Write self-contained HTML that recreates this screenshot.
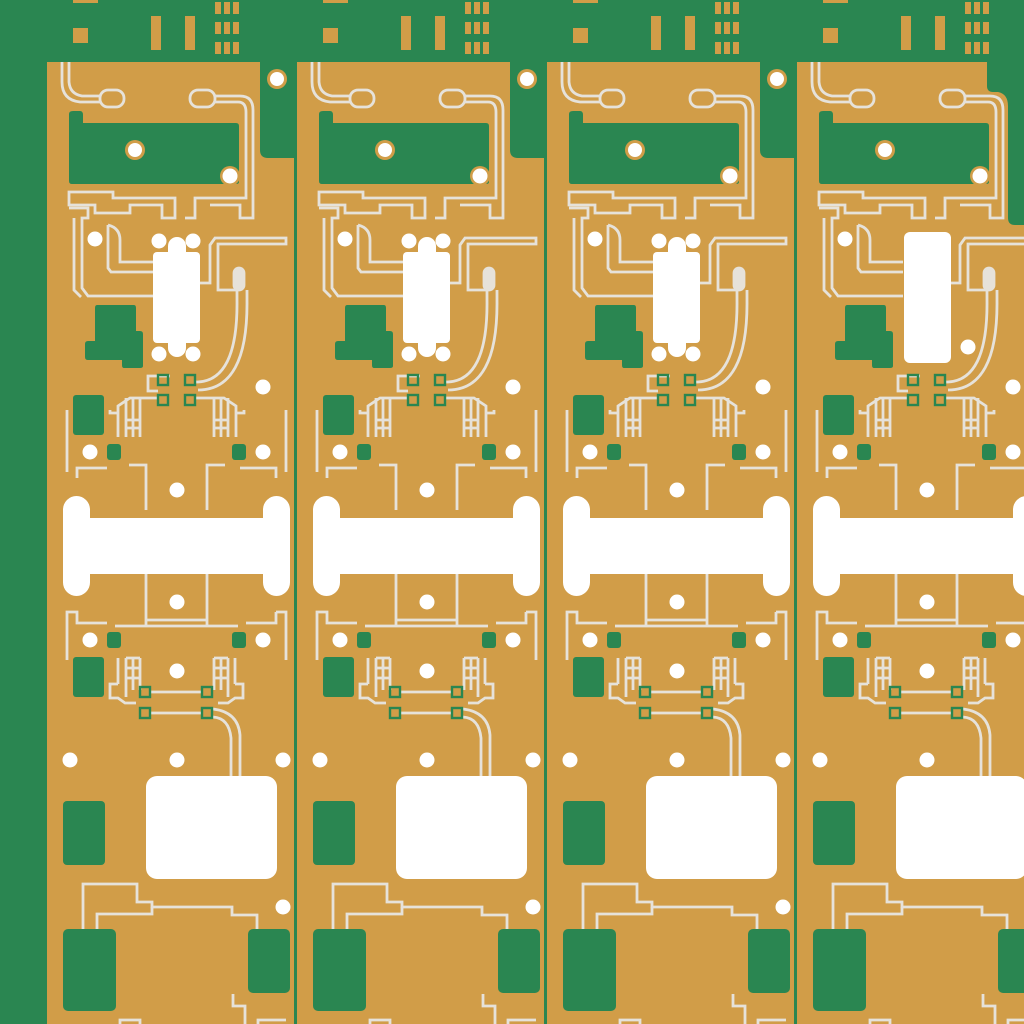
<!DOCTYPE html>
<html><head><meta charset="utf-8"><style>html,body{margin:0;padding:0;background:#2a8651}svg{display:block}</style></head>
<body>
<svg width="1024" height="1024" viewBox="0 0 1024 1024" xmlns="http://www.w3.org/2000/svg">
<defs>
<g id="top">
  <rect x="73" y="0" width="25" height="3" fill="#d19d48"/>
  <rect x="73" y="28" width="15" height="15" fill="#d19d48"/>
  <rect x="151" y="16" width="10" height="34" fill="#d19d48"/>
  <rect x="185" y="16" width="10" height="34" fill="#d19d48"/>
  <g fill="#d19d48">
    <rect x="215" y="2" width="6" height="12"/><rect x="224" y="2" width="6" height="12"/><rect x="233" y="2" width="6" height="12"/>
    <rect x="215" y="22" width="6" height="12"/><rect x="224" y="22" width="6" height="12"/><rect x="233" y="22" width="6" height="12"/>
    <rect x="215" y="42" width="6" height="12"/><rect x="224" y="42" width="6" height="12"/><rect x="233" y="42" width="6" height="12"/>
  </g>
</g>
<g id="colbase">
  <path d="M47 62 H260 V150 Q260 158 268 158 H294 V1024 H47 Z" fill="#d19d48"/>
  <circle cx="277" cy="79" r="10" fill="#d19d48"/><circle cx="277" cy="79" r="7" fill="#fff"/>
</g>
<g id="col" fill="none" stroke="#e6e2da" stroke-width="2.8">
  <path d="M62 62 V82 Q62 100 80 102 H100"/><path d="M69 62 V82 Q70 94 82 96 H100"/>
  <rect x="100" y="90" width="24" height="17" rx="8"/>
  <rect x="190" y="90" width="25" height="17" rx="8"/>
  <path d="M215 96 H240 Q253 96 253 110 V218 H240 V205 H210"/>
  <path d="M215 102 H238 Q246 102 246 112 V198 H195 V218 H185"/>
  <path d="M69 192 H113 V198 H175 V218 H162 V205 H130 V213 H95 V205 H69 Z"/>
  <path d="M69 208 H88 V218 H82 V288 L88 296 H153"/><path d="M74 218 V290 L81 297"/>
  <path d="M108 225 Q120 228 120 240 V262 H153"/><path d="M108 225 V268 L111 272 H153"/>
  <path d="M200 283 H210 V245 L215 238 H286 V244 H218 V290 H236"/>
  <path d="M237 290 V300 Q238 380 198 382 H195"/><path d="M247 290 V300 Q248 390 198 390"/>
  <rect x="234" y="268" width="10" height="22" rx="5" fill="#e6e2da"/>
  <path d="M170 376 H148 V391 H158"/>
  <path d="M158 398 H130 L118 406 V413 H110 V410 M118 413 V437 M126 398 V437 M126 420 H140 M126 428 H140 M133 398 V437 M140 398 V437"/>
  <path d="M196 398 H224 L236 406 V413 H244 V410 M236 413 V437 M228 398 V437 M214 420 H228 M214 428 H228 M221 398 V437 M214 398 V437"/>
  <path d="M67 410 V472 M286 410 V472"/>
  <path d="M77 478 V468 H107 M129 465 H146 V510 M207 510 V465 H225 M240 468 H276 V478"/>
  <path d="M146 574 V626 M207 574 V626 M146 620 H207 M115 626 H238"/>
  <path d="M67 660 V612 H77 V623 H107 M276 612 H286 V660 M276 612 V623 H246"/>
  <path d="M118 658 V684 M126 658 V697 M133 658 V690 M140 658 V690 M126 658 H140 M126 668 H140 M126 678 H140 M118 684 H110 V698 H118 L125 703 H136"/>
  <path d="M235 658 V684 M228 658 V697 M221 658 V690 M214 658 V690 M214 658 H228 M214 668 H228 M214 678 H228 M235 684 H243 V698 H235 L228 703 H218"/>
  <path d="M151 692 H202 M151 713 H202"/>
  <path d="M213 709 Q238 712 240 735 V776"/><path d="M213 717 Q229 718 231 738 V776"/>
  <path d="M83 929 V884 H137 V902 H152 V907 H232 V915 H257 V929"/>
  <path d="M97 929 V914 H152 V907"/>
  <path d="M233 994 V1006 H245 V1024"/>
  <path d="M120 1024 V1020 H140 V1024 M258 1024 V1020 H286"/>
  <g stroke="none">
    <path d="M73 111 H80 Q83 111 83 115 V123 H236 Q239 123 239 126 V182 Q239 184 236 184 H72 Q69 184 69 181 V114 Q69 111 73 111 Z" fill="#2a8651"/>
    <circle cx="135" cy="150" r="10" fill="#d19d48"/><circle cx="135" cy="150" r="7" fill="#fff"/>
    <circle cx="230" cy="176" r="10" fill="#d19d48"/><circle cx="230" cy="176" r="7.5" fill="#fff"/>
    <circle cx="95" cy="239" r="7.5" fill="#fff"/>
    <path d="M97 305 H134 Q136 305 136 308 V331 H140 Q143 331 143 334 V366 Q143 368 140 368 H124 Q122 368 122 365 V360 H88 Q85 360 85 357 V344 Q85 341 88 341 H95 V308 Q95 305 97 305 Z" fill="#2a8651"/>
    <rect x="73" y="395" width="31" height="40" rx="3" fill="#2a8651"/>
    <circle cx="263" cy="387" r="7.5" fill="#fff"/>
    <rect x="107" y="444" width="14" height="16" rx="3" fill="#2a8651"/>
    <rect x="232" y="444" width="14" height="16" rx="3" fill="#2a8651"/>
    <circle cx="90" cy="452" r="7.5" fill="#fff"/><circle cx="263" cy="452" r="7.5" fill="#fff"/>
    <circle cx="177" cy="490" r="7.5" fill="#fff"/>
    <rect x="63" y="496" width="27" height="100" rx="13.5" fill="#fff"/>
    <rect x="263" y="496" width="27" height="100" rx="13.5" fill="#fff"/>
    <rect x="70" y="518" width="210" height="56" fill="#fff"/>
    <circle cx="177" cy="602" r="7.5" fill="#fff"/>
    <rect x="107" y="632" width="14" height="16" rx="3" fill="#2a8651"/>
    <rect x="232" y="632" width="14" height="16" rx="3" fill="#2a8651"/>
    <circle cx="90" cy="640" r="7.5" fill="#fff"/><circle cx="263" cy="640" r="7.5" fill="#fff"/>
    <rect x="73" y="657" width="31" height="40" rx="3" fill="#2a8651"/>
    <circle cx="177" cy="671" r="7.5" fill="#fff"/>
    <circle cx="70" cy="760" r="7.5" fill="#fff"/><circle cx="177" cy="760" r="7.5" fill="#fff"/><circle cx="283" cy="760" r="7.5" fill="#fff"/>
    <rect x="146" y="776" width="131" height="103" rx="11" fill="#fff"/>
    <rect x="63" y="801" width="42" height="64" rx="4" fill="#2a8651"/>
    <circle cx="283" cy="907" r="7.5" fill="#fff"/>
    <rect x="63" y="929" width="53" height="82" rx="5" fill="#2a8651"/>
    <rect x="248" y="929" width="42" height="64" rx="5" fill="#2a8651"/>
  </g>
  <g stroke="#2a8651" stroke-width="2.4">
    <rect x="158" y="375" width="10" height="10"/><rect x="185" y="375" width="10" height="10"/>
    <rect x="158" y="395" width="10" height="10"/><rect x="185" y="395" width="10" height="10"/>
    <rect x="140" y="687" width="10" height="10"/><rect x="202" y="687" width="10" height="10"/>
    <rect x="140" y="708" width="10" height="10"/><rect x="202" y="708" width="10" height="10"/>
  </g>
</g>
<g id="chip" fill="#fff">
  <rect x="153" y="252" width="47" height="91" rx="4"/>
  <circle cx="159" cy="241" r="7.5"/><circle cx="193" cy="241" r="7.5"/>
  <circle cx="159" cy="354" r="7.5"/><circle cx="193" cy="354" r="7.5"/>
  <rect x="168" y="237" width="18" height="120" rx="9"/>
</g>
</defs>
<rect width="1024" height="1024" fill="#2a8651"/>
<use href="#top"/><use href="#top" transform="translate(250 0)"/><use href="#top" transform="translate(500 0)"/><use href="#top" transform="translate(750 0)"/>
<use href="#colbase"/><use href="#colbase" transform="translate(250 0)"/><use href="#colbase" transform="translate(500 0)"/>
<path d="M797 62 H987 V86 Q987 92 993 92 H998 Q1008 94 1008 106 V218 Q1008 225 1015 225 H1024 V1024 H797 Z" fill="#d19d48"/>
<use href="#col"/><use href="#col" transform="translate(250 0)"/><use href="#col" transform="translate(500 0)"/><use href="#col" transform="translate(750 0)"/>
<use href="#chip"/><use href="#chip" transform="translate(250 0)"/><use href="#chip" transform="translate(500 0)"/>
<rect x="904" y="232" width="47" height="131" rx="6" fill="#fff"/>
<circle cx="968" cy="347" r="7.5" fill="#fff"/>
</svg>
</body></html>
